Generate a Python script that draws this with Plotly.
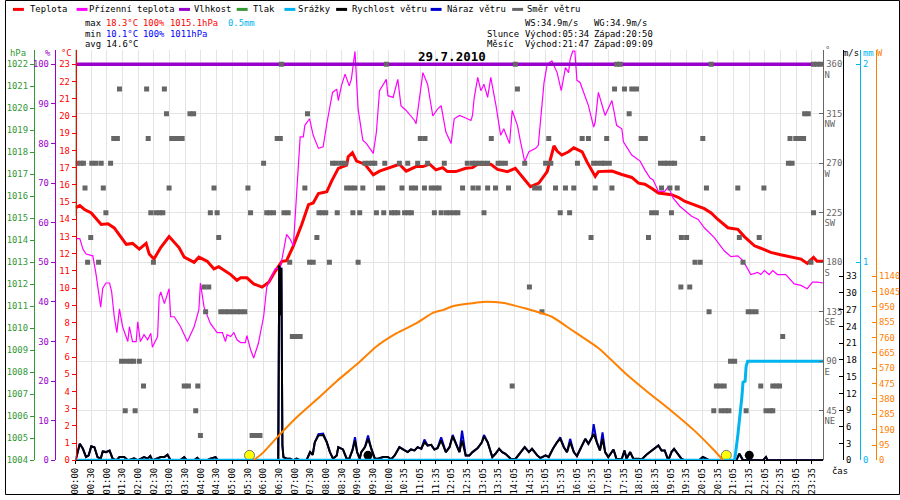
import plotly.graph_objects as go

# ---------------- data (x = slot minutes along the time axis) ----------------
x_tick_labels = ["00:00", "00:30", "01:00", "01:30", "02:00", "02:30", "03:00", "03:30",
                 "04:00", "04:30", "05:00", "05:30", "06:00", "06:30", "07:00", "07:30",
                 "08:00", "08:30", "09:00", "09:30", "10:00", "10:35", "11:05", "11:35",
                 "12:05", "12:35", "13:05", "13:35", "14:05", "14:35", "15:05", "15:35",
                 "16:05", "16:35", "17:05", "17:35", "18:05", "18:35", "19:05", "19:35",
                 "20:05", "20:35", "21:05", "21:35", "22:05", "22:35", "23:05", "23:35"]
x_tick_vals = [30 * i for i in range(len(x_tick_labels))]
x_end = 1432

temp_t = [0, 8, 17, 30, 49, 62, 74, 97, 109, 122, 135, 141, 150, 163, 179, 198, 208, 227, 236, 252,
          265, 274, 297, 309, 316, 328, 341, 357, 370, 379, 395, 404, 417, 433, 446, 455, 465, 481, 490, 503,
          519, 522, 530, 538, 554, 570, 582, 608, 620, 633, 652, 665, 678, 690, 703, 712, 728, 747, 760, 770,
          795, 808, 827, 842, 858, 871, 887, 903, 916, 922, 931, 944, 954, 970, 979, 995, 1001, 1027, 1046, 1065,
          1078, 1090, 1103, 1116, 1141, 1154, 1166, 1185, 1204, 1217, 1230, 1249, 1268, 1281, 1300, 1312, 1331,
          1350, 1370, 1389, 1401, 1413, 1420, 1432]
temp_c = [14.66, 14.8, 14.57, 14.37, 13.7, 13.74, 13.5, 12.55, 12.6, 12.27, 12.6, 11.98, 11.69, 12.36, 13.0,
          12.36, 11.8, 11.5, 11.8, 11.56, 11.12, 11.25, 10.79, 10.45, 10.6, 10.6, 10.25, 10.06, 10.35, 10.83,
          11.56, 11.6, 12.46, 13.7, 14.85, 14.95, 15.5, 15.6, 16.2, 16.96, 17.15, 17.64, 17.87, 17.38, 17.2,
          16.58, 16.8, 17.06, 17.2, 16.8, 17.06, 17.06, 17.2, 16.87, 17.0, 16.77, 16.77, 16.96, 17.0, 17.2,
          17.2, 16.9, 16.77, 16.96, 16.4, 15.9, 16.1, 16.77, 18.27, 17.96, 17.73, 17.92, 18.15, 17.92, 17.35,
          16.49, 16.77, 16.8, 16.6, 16.43, 16.1, 16.04, 15.8, 15.53, 15.43, 15.28, 15.05, 14.85, 14.62, 14.37,
          13.99, 13.51, 13.42, 12.98, 12.46, 12.32, 12.08, 11.94, 11.79, 11.69, 11.44, 11.79, 11.56, 11.56]

feel_t = [0, 8, 14, 20, 33, 39, 48, 52, 58, 65, 69, 74, 79, 84, 90, 100, 103, 109, 116, 119,
          124, 131, 138, 144, 147, 157, 160, 163, 170, 179, 182, 189, 201, 214, 227, 236, 239, 246, 258, 271,
          281, 287, 290, 297, 303, 309, 316, 325, 328, 335, 341, 350, 360, 366, 382, 392, 404, 411, 417, 423,
          430, 436, 439, 448, 455, 465, 474, 481, 492, 500, 503, 509, 516, 524, 528, 535, 541, 550, 557, 570,
          576, 582, 589, 595, 598, 608, 617, 623, 633, 649, 652, 665, 674, 684, 693, 700, 709, 719, 725, 735,
          747, 757, 760, 763, 770, 776, 782, 789, 795, 805, 814, 820, 827, 831, 836, 846, 852, 860, 868, 881,
          886, 890, 897, 903, 912, 922, 930, 938, 944, 947, 952, 956, 960, 966, 973, 982, 992, 995, 1001, 1008,
          1014, 1027, 1036, 1046, 1049, 1065, 1081, 1090, 1100, 1106, 1116, 1128, 1135, 1144, 1157, 1179, 1192,
          1204, 1223, 1242, 1255, 1268, 1278, 1293, 1306, 1312, 1319, 1328, 1335, 1344, 1360, 1376, 1389, 1401,
          1411, 1420, 1432]
feel_c = [12.88, 12.88, 12.27, 11.98, 11.88, 10.83, 8.9, 10.0, 10.3, 10.3, 9.8, 8.34, 7.42, 8.8, 7.76, 6.9,
          7.76, 6.9, 6.9, 8.05, 6.9, 7.3, 7.0, 7.38, 6.57, 7.19, 9.5, 9.78, 9.1, 9.97, 8.34, 8.34, 7.76, 6.9,
          7.76, 8.74, 10.3, 8.9, 7.95, 7.42, 7.42, 6.9, 7.3, 7.19, 7.42, 7.0, 6.84, 6.84, 7.24, 6.44, 5.94, 6.8,
          8.34, 10.06, 11.12, 11.17, 13.13, 12.84, 12.46, 15.62, 18.79, 18.79, 19.46, 19.84, 18.88, 18.12,
          18.21, 19.55, 21.37, 21.56, 20.9, 21.75, 22.43, 21.75, 22.13, 23.75, 20.4, 18.6, 18.4, 17.83, 19.07,
          21.47, 21.85, 22.13, 21.18, 21.08, 22.13, 20.6, 20.32, 19.74, 19.55, 22.52, 21.85, 20.0, 20.4, 20.6,
          19.07, 18.4, 19.84, 20.03, 19.88, 19.74, 20.03, 21.0, 22.24, 21.47, 21.85, 21.08, 22.24, 20.6, 18.88,
          19.26, 18.69, 18.4, 20.32, 19.46, 18.5, 17.35, 17.92, 18.12, 18.3, 19.65, 21.95, 23.0, 23.2, 22.52,
          21.47, 22.81, 22.52, 23.3, 23.77, 23.77, 22.07, 21.95, 21.37, 20.6, 19.36, 19.65, 21.37, 20.6, 20.03,
          20.9, 19.46, 19.26, 18.5, 17.73, 17.38, 16.87, 16.4, 16.29, 15.62, 15.62, 15.9, 15.24, 14.76, 14.19,
          13.99, 13.51, 12.94, 12.17, 11.83, 11.88, 11.6, 10.79, 10.92, 10.79, 11.02, 10.79, 11.02, 10.79,
          10.79, 10.25, 10.16, 9.97, 10.35, 10.35, 10.3]

hum_t = [0, 1432]
hum_pct = [100, 100]

pres_t = [0, 0]
pres_hpa = [1015.1, 1030.0]

rain_t = [0, 1262, 1268, 1273, 1276, 1278, 1282, 1284, 1287, 1432]
rain_mm = [0, 0, 0.125, 0.24, 0.325, 0.395, 0.4, 0.475, 0.5, 0.5]

wind_t = [0, 8, 14, 20, 25, 30, 36, 42, 48, 52, 58, 65, 71, 78, 84, 93, 100, 112, 119, 131,
          138, 143, 147, 157, 163, 170, 176, 182, 200, 208, 213, 227, 233, 238, 251, 258, 268, 272, 388, 390,
          392, 394, 396, 398, 404, 411, 417, 423, 430, 442, 449, 454, 458, 465, 474, 481, 487, 493,
          500, 503, 512, 519, 524, 530, 535, 539, 544, 547, 554, 560, 566, 573, 579, 589, 598, 604, 611, 620,
          630, 636, 642, 649, 655, 662, 668, 674, 681, 687, 693, 700, 709, 716, 722, 730, 735, 740, 747, 754,
          760, 770, 778, 782, 789, 798, 804, 811, 817, 823, 833, 842, 852, 860, 868, 874, 884, 890, 900, 906,
          914, 922, 928, 935, 941, 947, 954, 960, 966, 976, 982, 989, 992, 998, 1004, 1009, 1014, 1020, 1030,
          1036, 1046, 1051, 1055, 1062, 1068, 1078, 1084, 1093, 1103, 1116, 1122, 1128, 1135, 1141, 1146, 1154,
          1160, 1166, 1194, 1201, 1208, 1214, 1265, 1271, 1278, 1316, 1322, 1325, 1432]
wind_ms = [0, 2.96, 2.07, 0.59, 0.89, 2.54, 2.36, 0.59, 0.3, 1.6, 1.48, 1.77, 0.3, 0, 0.59, 0.59, 0, 0.35, 0,
           0.59, 0.3, 0.77, 0, 0.3, 0.59, 0.59, 1.0, 0, 0, 0.59, 0, 0, 0.47, 0, 0, 0.3, 0.59, 0, 0, 34.9,
           26, 34.5, 2.7, 0.59, 0.3, 0.3, 0, 0.3, 0, 0, 1.48, 1.0, 3.25, 4.44, 4.55, 3.25, 1.48, 0.3,
           0.89, 2.36, 1.95, 0.3, 0.3, 1.77, 3.55, 1.48, 0.3, 1.48, 2.36, 3.85, 2.07, 0.3, 0.3, 0.59, 0.59, 0.18,
           0.89, 2.36, 1.77, 1.48, 1.95, 1.77, 2.36, 2.07, 3.25, 2.66, 2.78, 1.95, 2.19, 3.55, 1.48, 2.36, 4.32,
           2.66, 1.48, 3.55, 0.89, 0.89, 1.48, 2.19, 3.25, 4.32, 3.25, 0.59, 1.18, 2.07, 1.48, 1.18, 0.3, 0.2,
           1.48, 2.36, 1.48, 2.07, 0.89, 0.4, 0.89, 0.59, 2.07, 3.25, 3.85, 2.36, 1.48, 3.25, 1.48, 0.77, 1.95,
           3.85, 2.96, 4.14, 4.73, 3.25, 1.77, 3.85, 1.48, 0.59, 1.95, 0.18, 0.3, 1.77, 0.3, 1.48, 0.3, 0.3,
           0.18, 1.0, 1.77, 2.66, 1.77, 1.77, 0, 1.48, 2.07, 1.0, 0.3, 0, 0, 0.59, 0.3, 0, 0, 1.18, 0, 0, 0.59,
           0, 0]
gust_ms = [0, 2.96, 2.07, 0.59, 0.89, 2.54, 2.36, 0.59, 0.3, 1.6, 1.48, 1.77, 0.3, 0, 0.59, 0.59, 0, 0.35, 0,
           0.59, 0.3, 0.77, 0, 0.3, 0.59, 0.59, 1.0, 0, 0, 0.59, 0, 0, 0.47, 0, 0, 0.3, 0.59, 0, 0, 34.9,
           26, 34.5, 2.7, 0.59, 0.3, 0.3, 0, 0.3, 0, 0, 1.48, 1.0, 3.25, 4.7, 4.8, 3.25, 1.48, 0.3,
           0.89, 2.36, 1.95, 0.3, 0.3, 1.77, 4.14, 1.48, 0.3, 1.48, 2.36, 4.44, 2.07, 0.3, 0.3, 0.59, 0.59, 0.18,
           0.89, 2.36, 1.77, 1.48, 1.95, 1.77, 2.36, 2.07, 3.73, 2.66, 2.78, 1.95, 2.19, 4.14, 1.48, 2.36, 4.55,
           2.66, 1.48, 5.32, 0.89, 0.89, 1.48, 2.19, 3.25, 4.55, 3.25, 0.59, 1.18, 2.07, 1.48, 1.18, 0.3, 0.2,
           1.48, 2.36, 1.48, 2.07, 0.89, 0.4, 0.89, 0.59, 2.07, 3.25, 4.14, 2.36, 1.48, 3.85, 1.48, 0.77, 1.95,
           3.85, 2.96, 4.14, 6.5, 3.25, 1.77, 5.0, 1.48, 0.59, 1.95, 0.18, 0.3, 1.77, 0.3, 1.48, 0.3, 0.3,
           0.18, 1.0, 1.77, 2.66, 1.77, 1.77, 0, 1.48, 2.07, 1.0, 0.3, 0, 0, 0.59, 0.3, 0, 0, 1.18, 0, 0, 0.59,
           0, 0]

solar_t = [341, 360, 389, 423, 462, 500, 538, 576, 614, 652, 684, 703, 722, 779, 817, 862, 912, 950, 1001,
           1052, 1097, 1141, 1185, 1223, 1240]
solar_w = [0, 51, 153, 265, 378, 490, 593, 705, 786, 848, 913, 930, 954, 981, 975, 940, 889, 807, 695,
           541, 419, 306, 184, 61, 0]

sun_event_t = [333, 1246]      # sunrise / sunset markers
moon_event_t = [560, 1290]     # moon markers
event_level_ms = [0.9, 0.9]

# wind direction samples (minutes) per compass direction
wd_N = [394, 595, 842, 1036, 1043, 1217, 1413, 1420, 1427]
wd_NNW = [84, 136, 170, 846, 1032, 1051, 1065, 1074]
wd_NW = [174, 219, 226, 444, 1060, 1396, 1403]
wd_WNW = [73, 80, 139, 184, 190, 197, 204, 386, 392, 660, 669, 796, 906, 970, 982, 1017, 1083, 1091, 1201,
          1368, 1379, 1387, 1394]
wd_W = [3, 10, 15, 31, 39, 49, 67, 360, 492, 499, 508, 516, 554, 561, 568, 573, 592, 620, 636, 655, 674, 706,
        750, 760, 766, 773, 781, 789, 809, 815, 823, 860, 900, 910, 961, 992, 1000, 1008, 1013, 1022, 1120,
        1128, 1133, 1141, 1147, 1365, 1372]
wd_WSW = [18, 53, 179, 265, 330, 439, 519, 527, 535, 550, 580, 588, 625, 643, 651, 668, 681, 689, 696, 741,
          761, 771, 789, 804, 829, 879, 888, 919, 938, 954, 995, 1027, 1122, 1138, 1152, 1208, 1268, 1318]
wd_SW = [58, 144, 154, 161, 167, 258, 271, 335, 366, 372, 379, 399, 407, 466, 472, 479, 501, 531, 544, 576,
         590, 605, 611, 617, 630, 637, 643, 687, 700, 710, 717, 725, 732, 782, 928, 946, 1103, 1112, 1141, 1413]
wd_SSW = [29, 274, 462, 987, 1097, 1160, 1170, 1271, 1309]
wd_S = [23, 44, 149, 410, 448, 455, 486, 541, 1186, 1196, 1278, 1408]
wd_SSE = [246, 255, 869, 1159, 1176]
wd_SE = [249, 278, 286, 293, 301, 309, 316, 324, 893, 1213, 1288, 1295, 1303]
wd_ESE = [415, 423, 430, 1354]
wd_E = [88, 97, 105, 111, 122, 1254, 1262]
wd_ENE = [130, 208, 216, 234, 836, 1227, 1234, 1242, 1312, 1335, 1342, 1348]
wd_NE = [95, 114, 230, 1222, 1236, 1244, 1251, 1284, 1322, 1330, 1335]
wd_NNE = [239, 338, 346, 353]

dir_groups = [(360, wd_N), (337.5, wd_NNW), (315, wd_NW), (292.5, wd_WNW), (270, wd_W), (247.5, wd_WSW),
              (225, wd_SW), (202.5, wd_SSW), (180, wd_S), (157.5, wd_SSE), (135, wd_SE), (112.5, wd_ESE),
              (90, wd_E), (67.5, wd_ENE), (45, wd_NE), (22.5, wd_NNE)]
dir_t, dir_deg = [], []
for deg, times in dir_groups:
    dir_t += times
    dir_deg += [deg] * len(times)

dir_tick_vals = [45, 90, 135, 180, 225, 270, 315, 360]
dir_tick_names = ["NE", "E", "SE", "S", "SW", "W", "NW", "N"]

# ---------------- styling ----------------
FONT = "DejaVu Sans Mono"
FS = 8.9
CW = 5.36            # monospace advance of the header text, px
W, H = 900, 500
PL, PR, PT, PB = 71, 823, 50, 465
C_RED, C_MAG, C_PUR, C_GRN = "#ff0000", "#ff00ff", "#9900cc", "#339933"
C_CYAN, C_BLUE, C_GRAY, C_ORG = "#00b4f0", "#0000cc", "#666666", "#ff8000"
GRID = "#e4e4e4"


def fx(px):
    return px / W


def fy(py):
    return 1 - py / H


def top_of(lo, hi, hi_py):
    return lo + (hi - lo) * (PB - PT) / (PB - hi_py)


dom_y = [fy(PB), fy(PT)]

fig = go.Figure()
common = dict(hoverinfo="skip", showlegend=False, xaxis="x")

fig.add_trace(go.Scatter(x=temp_t, y=temp_c, mode="lines", line=dict(color=C_RED, width=3), yaxis="y", **common))
fig.add_trace(go.Scatter(x=feel_t, y=feel_c, mode="lines", line=dict(color=C_MAG, width=1.2), yaxis="y", **common))
fig.add_trace(go.Scatter(x=hum_t, y=hum_pct, mode="lines", line=dict(color=C_PUR, width=3.5), yaxis="y2", **common))
fig.add_trace(go.Scatter(x=pres_t, y=pres_hpa, mode="lines", line=dict(color=C_GRN, width=1.5), yaxis="y3", **common))
fig.add_trace(go.Scatter(x=solar_t, y=solar_w, mode="lines", line=dict(color=C_ORG, width=2, shape="spline", smoothing=0.5),
                         yaxis="y7", **common))
fig.add_trace(go.Scatter(x=rain_t, y=rain_mm, mode="lines", line=dict(color=C_CYAN, width=3), yaxis="y6", **common))
fig.add_trace(go.Scatter(x=wind_t, y=gust_ms, mode="lines", line=dict(color=C_BLUE, width=2), yaxis="y5", **common))
fig.add_trace(go.Scatter(x=wind_t, y=wind_ms, mode="lines", line=dict(color="#000000", width=2), yaxis="y5", **common))
fig.add_trace(go.Scatter(x=dir_t, y=dir_deg, mode="markers",
                         marker=dict(symbol="square", size=5, color=C_GRAY, line=dict(width=0)),
                         yaxis="y4", **common))
# empty trace so the compass-letter axis exists
fig.add_trace(go.Scatter(x=[], y=[], mode="markers", yaxis="y8", **common))
fig.add_trace(go.Scatter(x=sun_event_t, y=event_level_ms, mode="markers",
                         marker=dict(symbol="circle", size=10, color="#ffff00", line=dict(color="#777777", width=1)),
                         yaxis="y5", **common))
fig.add_trace(go.Scatter(x=moon_event_t, y=event_level_ms, mode="markers",
                         marker=dict(symbol="circle", size=9, color="#000000"),
                         yaxis="y5", **common))


def yax(color, rng, tickvals, side, pos, ticks="outside", ticktext=None, overlay=True, **kw):
    d = dict(domain=dom_y, range=rng, tickmode="array", tickvals=tickvals, side=side, anchor="free",
             position=pos, showline=True, linecolor=color, linewidth=1, ticks=ticks, ticklen=4,
             tickcolor=color, tickfont=dict(family=FONT, size=FS, color=color), showgrid=False,
             zeroline=False, fixedrange=True)
    if ticktext is not None:
        d["ticktext"] = ticktext
    if overlay:
        d["overlaying"] = "y"
    d.update(kw)
    return d


deg_top = top_of(0, 360, 65)
letter_off = 10.5 * deg_top / (PB - PT)     # compass letters sit one text line below the degree value

fig.update_layout(
    width=W, height=H, margin=dict(l=0, r=0, t=0, b=0),
    paper_bgcolor="white", plot_bgcolor="white",
    xaxis=dict(domain=[fx(PL), fx(PR)], range=[0, x_end], tickmode="array", tickvals=x_tick_vals,
               ticktext=x_tick_labels, tickangle=-90, tickfont=dict(family=FONT, size=FS, color="black"),
               showgrid=True, gridcolor=GRID, gridwidth=1, ticks="outside", ticklen=3, tickcolor="black",
               showline=True, linecolor="black", zeroline=False, anchor="free", position=fy(PB),
               fixedrange=True),
    yaxis=yax(C_RED, [0, top_of(0, 23, 65)], list(range(0, 24)), "left", fx(PL), overlay=False),
    yaxis2=yax(C_PUR, [0, top_of(0, 100, 65)], list(range(0, 101, 10)), "left", fx(50)),
    yaxis3=yax(C_GRN, [1004, top_of(1004, 1022, 65)], list(range(1004, 1023)), "left", fx(29)),
    yaxis4=yax(C_GRAY, [0, deg_top], dir_tick_vals, "right", fx(PR), ticks="inside",
               showgrid=True, gridcolor=GRID, gridwidth=1),
    yaxis8=yax(C_GRAY, [letter_off, deg_top + letter_off], dir_tick_vals, "right", fx(PR), ticks="",
               ticktext=dir_tick_names, showline=False),
    yaxis5=yax("#000000", [0, top_of(0, 33, 279)], list(range(0, 34, 3)), "right", fx(843), ticks="inside"),
    yaxis6=yax(C_CYAN, [0, top_of(0, 2, 65)], [0, 1, 2], "right", fx(860), ticks="inside"),
    yaxis7=yax(C_ORG, [0, top_of(0, 1140, 279)], list(range(0, 1141, 95)), "right", fx(876), ticks="inside"),
)

# ---------------- header texts ----------------
ann = []


def txt(s, x, y, color="black", size=FS, bold=False, xanchor="left"):
    ann.append(dict(text=(f"<b>{s}</b>" if bold else s), x=fx(x), y=fy(y), xref="paper", yref="paper",
                    xanchor=xanchor, yanchor="middle", showarrow=False, borderpad=0, borderwidth=0,
                    font=dict(family=FONT, size=size, color=color)))


legend_items = [("Teplota", C_RED, 8, 25), ("Přízenní teplota", C_MAG, 72, 84), ("Vlhkost", C_PUR, 175, 190),
                ("Tlak", C_GRN, 233, 249), ("Srážky", C_CYAN, 281, 295), ("Rychlost větru", "#000000", 333, 349),
                ("Náraz větru", C_BLUE, 428, 444), ("Směr větru", C_GRAY, 510, 525)]
shapes = []
for name, col, x0, xt in legend_items:
    shapes.append(dict(type="line", xref="paper", yref="paper", x0=fx(x0), x1=fx(x0 + 11), y0=fy(9.5), y1=fy(9.5),
                       line=dict(color=col, width=3)))
    txt(name, xt, 9.5)

# statistics block, laid out on a monospace grid (column index * CW)
LX = 80
txt("max", LX, 23.5)
txt("18.3°C", LX + 4 * CW, 23.5, C_RED)
txt("100%", LX + 11 * CW, 23.5, C_RED)
txt("1015.1hPa", LX + 16 * CW, 23.5, C_RED)
txt("0.5mm", LX + 27 * CW, 23.5, C_CYAN)
txt("min", LX, 34)
txt("10.1°C", LX + 4 * CW, 34, "#0000ff")
txt("100%", LX + 11 * CW, 34, "#0000ff")
txt("1011hPa", LX + 16 * CW, 34, "#0000ff")
txt("avg 14.6°C", LX, 44.5)

RX = 485
txt("WS:34.9m/s", RX + 7 * CW, 23.5)
txt("WG:34.9m/s", RX + 20 * CW, 23.5)
txt("Slunce", RX, 34)
txt("Východ:05:34", RX + 7 * CW, 34)
txt("Západ:20:50", RX + 20 * CW, 34)
txt("Měsíc", RX, 44.5)
txt("Východ:21:47", RX + 7 * CW, 44.5)
txt("Západ:09:09", RX + 20 * CW, 44.5)

txt("29.7.2010", 449, 57, size=12.5, bold=True, xanchor="center")

txt("hPa", 13, 54, C_GRN, xanchor="center")
txt("%", 43, 54, C_PUR, xanchor="center")
txt("°C", 62, 54, C_RED, xanchor="center")
txt("°", 827, 51, C_GRAY, xanchor="center")
txt("m/s", 851, 54, "#000000", xanchor="center")
txt("mm", 868, 54, C_CYAN, xanchor="center")
txt("W", 880, 54, C_ORG, xanchor="center")
txt("čas", 840, 476, xanchor="center")

shapes.append(dict(type="rect", xref="paper", yref="paper", x0=fx(0.5), x1=fx(899.5), y0=fy(499.5), y1=fy(0.5),
                   line=dict(color="black", width=1), fillcolor="rgba(0,0,0,0)"))

fig.update_layout(annotations=ann, shapes=shapes)

fig.write_html("out.html", config={"displayModeBar": False, "staticPlot": True},
               post_script="document.body.style.margin='0';")
